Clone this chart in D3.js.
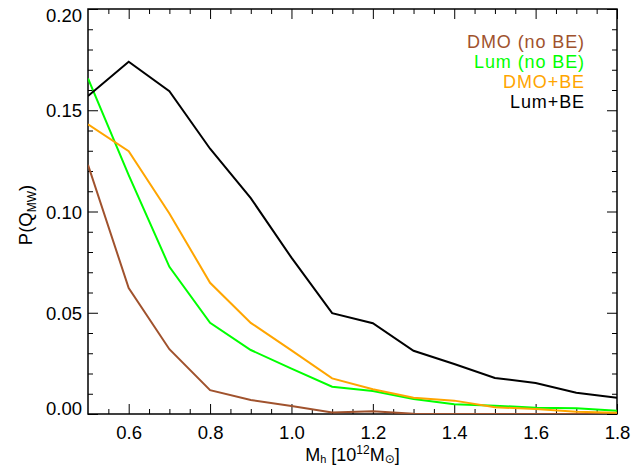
<!DOCTYPE html>
<html>
<head>
<meta charset="utf-8">
<script src="https://cdn.jsdelivr.net/npm/d3@7"></script>
<style>
  html, body { margin: 0; padding: 0; background: #fff; }
  svg { display: block; font-family: "Liberation Sans", Arial, Helvetica, sans-serif; }
</style>
</head>
<body>
<svg id="chart" width="643" height="466"></svg>
<script>
// ---- data ----
const massBins = [0.5, 0.6, 0.7, 0.8, 0.9, 1.0, 1.1, 1.2, 1.3, 1.4, 1.5, 1.6, 1.7, 1.8];
const dmoNoBE = [0.123, 0.0622, 0.032, 0.0118, 0.0069, 0.0040, 0.0008, 0.0014, 0.0001, 0.0000, 0.0000, 0.0000, 0.0000, 0.0000];
const lumNoBE = [0.1657, 0.118, 0.0727, 0.045, 0.0316, 0.0224, 0.0135, 0.0114, 0.0074, 0.0048, 0.0041, 0.0031, 0.0028, 0.0016];
const dmoBE = [0.143, 0.1298, 0.099, 0.0648, 0.045, 0.0314, 0.0176, 0.0122, 0.0080, 0.0066, 0.0033, 0.0025, 0.0011, 0.0006];
const lumBE = [0.157, 0.174, 0.1594, 0.131, 0.1066, 0.0772, 0.0498, 0.0448, 0.0312, 0.0247, 0.0178, 0.0153, 0.0105, 0.0080];
const seriesNames = ["DMO (no BE)", "Lum (no BE)", "DMO+BE", "Lum+BE"];
const seriesColors = ["#A0522D", "#00FF00", "#FFA500", "#000000"];
const xTicks = [0.6, 0.8, 1.0, 1.2, 1.4, 1.6, 1.8];
const yTicks = [0.00, 0.05, 0.10, 0.15, 0.20];

const allSeries = [dmoNoBE, lumNoBE, dmoBE, lumBE];

// ---- layout ----
const padL = 88, padR = 617, padT = 9, padB = 414;
const svg = d3.select("#chart");

const x = d3.scaleLinear().domain([0.5, 1.8]).range([padL, padR]);
const y = d3.scaleLinear().domain([0, 0.2]).range([padB, padT]);

const xMinor = d3.range(0.55, 1.8, 0.05).filter(v => xTicks.every(t => Math.abs(t - v) > 1e-6));
const yMinor = d3.range(0.01, 0.2, 0.01).filter(v => yTicks.every(t => Math.abs(t - v) > 1e-6));

const majorLen = 10, minorLen = 5;

function styleAxis(g) {
  g.select(".domain").remove();
  g.selectAll(".tick line").attr("stroke", "#000").attr("stroke-width", 1);
}

// bottom axis
svg.append("g").attr("transform", `translate(0,${padB})`)
  .call(d3.axisBottom(x).tickValues(xTicks).tickSize(-majorLen).tickPadding(11.5).tickFormat(d3.format(".1f")))
  .call(styleAxis)
  .call(g => g.selectAll("text").attr("font-size", 18.5).attr("fill", "#000").attr("font-family", null));
svg.append("g").attr("transform", `translate(0,${padB})`)
  .call(d3.axisBottom(x).tickValues(xMinor).tickSize(-minorLen).tickFormat(""))
  .call(styleAxis);
// top axis
svg.append("g").attr("transform", `translate(0,${padT})`)
  .call(d3.axisTop(x).tickValues(xTicks).tickSize(-majorLen).tickFormat(""))
  .call(styleAxis);
svg.append("g").attr("transform", `translate(0,${padT})`)
  .call(d3.axisTop(x).tickValues(xMinor).tickSize(-minorLen).tickFormat(""))
  .call(styleAxis);
// left axis
svg.append("g").attr("transform", `translate(${padL},0)`)
  .call(d3.axisLeft(y).tickValues(yTicks).tickSize(-majorLen).tickPadding(6).tickFormat(d3.format(".2f")))
  .call(styleAxis)
  .call(g => g.selectAll("text").attr("font-size", 18.5).attr("fill", "#000").attr("font-family", null)
    .attr("dy", "0.36em")
    .attr("y", d => {
      const py = y(d);
      const clamped = Math.min(Math.max(py, padT + 6), padB - 6);
      return clamped - py;
    }));
svg.append("g").attr("transform", `translate(${padL},0)`)
  .call(d3.axisLeft(y).tickValues(yMinor).tickSize(-minorLen).tickFormat(""))
  .call(styleAxis);
// right axis
svg.append("g").attr("transform", `translate(${padR},0)`)
  .call(d3.axisRight(y).tickValues(yTicks).tickSize(-majorLen).tickFormat(""))
  .call(styleAxis);
svg.append("g").attr("transform", `translate(${padR},0)`)
  .call(d3.axisRight(y).tickValues(yMinor).tickSize(-minorLen).tickFormat(""))
  .call(styleAxis);

// frame
svg.append("rect")
  .attr("x", padL).attr("y", padT)
  .attr("width", padR - padL).attr("height", padB - padT)
  .attr("fill", "none").attr("stroke", "#000").attr("stroke-width", 1.5);

// lines
const line = d3.line().x((d, i) => x(massBins[i])).y(d => y(d));
svg.append("clipPath").attr("id", "clip").append("rect")
  .attr("x", padL).attr("y", padT).attr("width", padR - padL).attr("height", padB - padT);

svg.append("g").attr("clip-path", "url(#clip)")
  .selectAll("path").data(allSeries).join("path")
  .attr("d", d => line(d))
  .attr("fill", "none")
  .attr("stroke", (d, i) => seriesColors[i])
  .attr("stroke-width", 2)
  .attr("stroke-linejoin", "miter");

// legend
const legendX = 585, legendY0 = 47.6, legendDy = 20.2;
svg.append("g").selectAll("text").data(seriesNames).join("text")
  .attr("x", legendX)
  .attr("y", (d, i) => legendY0 + i * legendDy)
  .attr("text-anchor", "end")
  .attr("font-size", 18)
  .attr("letter-spacing", 0.9)
  .attr("fill", (d, i) => seriesColors[i])
  .text(d => d);

// x title: M_h [10^12 M_sun]
const xt = svg.append("text")
  .attr("x", (padL + padR) / 2).attr("y", 460.5)
  .attr("text-anchor", "middle").attr("font-size", 18).attr("fill", "#000");
xt.append("tspan").text("M");
xt.append("tspan").attr("font-size", 11).attr("dy", 2.5).text("h");
xt.append("tspan").attr("dy", -2.5).text(" [10");
xt.append("tspan").attr("font-size", 12).attr("dy", -7).text("12");
xt.append("tspan").attr("dy", 7).text("M");
xt.append("tspan").attr("font-size", 12).attr("dy", 2.5).attr("font-family", "DejaVu Sans").text("\u2299");
xt.append("tspan").attr("dy", -2.5).text("]");

// y title: P(Q_MW)
const yt = svg.append("text")
  .attr("transform", "translate(32,215) rotate(-90)")
  .attr("text-anchor", "middle").attr("font-size", 18.5).attr("fill", "#000");
yt.append("tspan").text("P(Q");
yt.append("tspan").attr("font-size", 12).attr("dy", 4).text("MW");
yt.append("tspan").attr("dy", -4).text(")");
</script>
</body>
</html>
